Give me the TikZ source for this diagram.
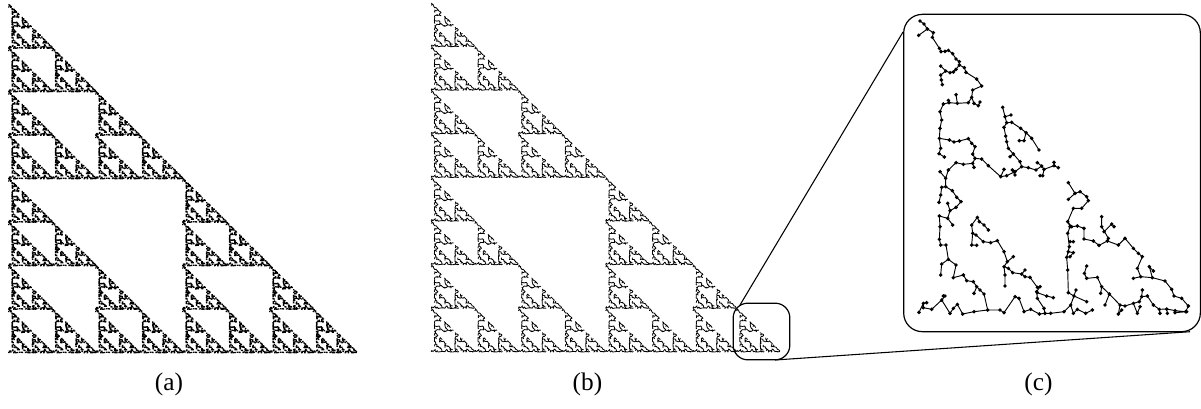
\documentclass[tikz,border=0pt]{standalone}
\usepackage{fontspec}
\setmainfont{Liberation Serif}
\def\yo{0pt}
\def\TP#1#2{\pgfqpoint{#1pt}{\dimexpr#2pt+\yo\relax}}
\def\TB#1{\TBfirst#1 x x }
\def\TBfirst#1 #2 {\TM{#1}{#2}\TBnext}
\def\TBnext#1 #2 {\if x#1\else\TL{#1}{#2}\expandafter\TBnext\fi}
\newcommand\treedata{%
\def\yo{0pt}%
\TB{60 33 72 42 82 57 100 68 97 82 118 115 123 125 135 124 145 121 158 131 168 147 178 155 178 165 168 178 160 186 150 188 137 183 122 195 124 210 127 224}%
\TB{56 76 82 57}%
\TB{122 168 137 183}%
\TB{178 165 193 173 198 187 230 207 245 228 218 240 215 262 205 278 172 280 147 278 130 282 120 305 125 330 120 355 118 385 148 390 162 396 178 393 205 386 215 400 225 410 218 432 225 445 245 447 265 467 302 500 312 478}%
\TB{168 254 172 280}%
\TB{145 271 147 278}%
\TB{215 262 222 280 235 287 240 276}%
\TB{118 385 122 415 117 431 133 441}%
\TB{225 445 218 460 190 463 168 458 145 480 137 505}%
\TB{218 460 222 472}%
\TB{120 485 137 505}%
\TB{302 500 320 497 345 485 365 470 385 473 408 480 425 468 432 478 462 467 475 473}%
\TB{337 480 345 495}%
\TB{432 478 428 497 420 497}%
\TB{412 458 425 468}%
\TB{462 457 462 467}%
\TB{365 470 360 455 340 432 325 415 320 395 317 378 312 352 320 338 335 337 362 355 378 368 395 385 417 420}%
\TB{378 368 372 392 358 392}%
\TB{320 338 315 320 308 292}%
\TB{315 320 333 315}%
\TB{330 440 340 432}%
\def\yo{480pt}%
\TB{137 25 137 50 125 52 122 75 117 97}%
\TB{137 50 157 62 170 82 183 95 168 112 150 122 143 100}%
\TB{150 122 143 145 118 138 120 170 118 208 122 225 138 225 145 268 125 282 122 315}%
\TB{143 145 158 165}%
\TB{145 268 168 285 160 323 190 315 200 332 220 335 230 350 240 360 252 372 263 420}%
\TB{230 350 222 370}%
\TB{57 427 70 400 80 398}%
\TB{70 400 70 413 95 418 125 390 135 378 130 378}%
\TB{125 390 150 430 160 415 172 403 188 432 222 425 263 420 300 420 312 428 345 380 357 385 372 425 392 418 418 432 435 430 452 430 492 425 512 405 522 378 505 368 503 300 500 262 508 230 503 190 510 170 503 155 520 115 545 115 565 92 560 80 540 65 525 70 505 38}%
\TB{525 70 505 88}%
\TB{512 405 528 360}%
\TB{435 430 432 415 412 385 410 365 420 350}%
\TB{412 352 390 322 375 320 365 312 338 308 325 295 312 290 322 275 312 245 292 212 272 218 250 215 228 195 218 190 215 165 232 142 238 155 252 165 265 180}%
\TB{218 190 215 225 230 226}%
\TB{322 275 340 260}%
\TB{312 290 315 315 315 348}%
\TB{375 300 365 312}%
\TB{412 368 440 378 460 383}%
\TB{512 405 520 430 532 418 557 430 577 420}%
\TB{522 378 560 395}%
\TB{503 155 515 170 532 168 552 175 552 207 580 213 597 226 622 213 655 225 675 205 700 235 715 250 727 260 712 295 722 320 700 325}%
\TB{722 320 757 323 795 333 815 358 822 378 845 385 865 408 857 425 825 422 800 417 778 418 760 405 742 378 725 380 718 395 700 400 675 408 660 405 628 372 605 350 592 322 560 325 553 310 560 288}%
\TB{628 372 615 405}%
\TB{605 350 602 370}%
\TB{757 323 748 290 760 303}%
\TB{605 140 605 170 625 205}%
\TB{612 185 635 162 642 170}%
\TB{510 215 520 215}%
\TB{505 245 520 248 510 260}%
\TB{660 405 655 432 665 420}%
\TB{700 400 712 430 720 410}%
\TB{725 380 727 360}%
\TB{778 418 780 430}%
\TB{800 417 802 430}%
\TB{825 422 825 428 860 425}%
}
% rendering modes
\newcommand\renderlines{\def\TM##1##2{\pgfpathmoveto{\TP{##1}{##2}}}\def\TL##1##2{\pgfpathlineto{\TP{##1}{##2}}}\treedata\pgfusepath{stroke}}
\newcommand\renderdots[1]{\def\TM##1##2{\pgfpathcircle{\TP{##1}{##2}}{#1pt}}\let\TL\TM\treedata\pgfusepath{fill}}
\newcommand\renderspeck[1]{\def\TM##1##2{\pgfpathrectangle{\TP{##1}{##2}}{\pgfqpoint{#1pt}{#1pt}}}\let\TL\TM\treedata\pgfusepath{fill}}
% place a copy: X0, Y0 (px, apex), S (px), flip (0/1), renderer
\newcommand\placetree[5]{%
\pgfscope
\pgfmathsetmacro\sa{.75*#3/815}\pgfmathsetmacro\sd{.75*#3/880}%
\ifnum#4=0
  \pgfmathsetmacro\tx{.75*(#1-55*#3/815)}\pgfmathsetmacro\ty{-.75*(#2-30*#3/880)}%
  \pgftransformcm{\sa}{0}{0}{-\sd}{\pgfqpoint{\tx pt}{\ty pt}}%
\else
  \pgfmathsetmacro\tx{.75*(#1+#3+#3*30/880)}\pgfmathsetmacro\ty{-.75*(#2+#3+#3*55/815)}%
  \pgftransformcm{0}{\sa}{-\sd}{0}{\pgfqpoint{\tx pt}{\ty pt}}%
\fi
#5%
\endpgfscope}
\newcount\cpy
\newcommand\sierpinski[4]{% X0 Y0 S renderer
\global\cpy=0
\pgfmathsetmacro\cs{#3/8}%
\foreach \ax/\ay in {0/0,0/1,1/1}{\foreach \bx/\by in {0/0,0/1,1/1}{\foreach \cx/\cy in {0/0,0/1,1/1}{%
  \global\advance\cpy by 1
  \pgfmathtruncatemacro\fl{mod(\cpy*\cpy+5*\cpy,3)==1?1:0}%
  \pgfmathsetmacro\px{#1+\cs*(4*\ax+2*\bx+\cx)}%
  \pgfmathsetmacro\py{#2+\cs*(4*\ay+2*\by+\cy)}%
  \placetree{\px}{\py}{\cs}{\fl}{#4}%
}}}}
\tikzset{
  lens/.style={draw=black,line width=.8pt},
  caption/.style={font=\fontsize{19}{22}\selectfont,inner sep=0pt,anchor=base}
}
\begin{document}
\begin{tikzpicture}[x=.75pt,y=-.75pt]
\useasboundingbox (0,0) rectangle (1201,408);
\fill[white] (0,0) rectangle (1201,408);
% (a)
\sierpinski{8}{4}{348}{\pgfsetfillcolor{black}\renderspeck{27}}
% (b)
\sierpinski{431}{3}{349}{\pgfsetlinewidth{.6pt}\pgfsetroundjoin\renderlines}
% (c)
\pgfscope
\pgftransformcm{.25}{0}{0}{-.25}{\pgfqpoint{675pt}{-7.5pt}}%
\pgfsetlinewidth{.7pt}\renderlines
\renderdots{5.8}
\endpgfscope
% frames and connectors
\node[draw=black,line width=.9pt,rounded corners=11pt,minimum width=42.5pt,minimum height=42.5pt,inner sep=0pt] (zb) at (761.5,331.5) {};
\node[draw=black,line width=.9pt,rounded corners=14pt,minimum width=222.5pt,minimum height=238pt,inner sep=0pt] (zc) at (1052,173) {};
\coordinate (b1) at (740,305);
\coordinate (c1) at (903,32);
\coordinate (b2) at (775,360);
\coordinate (c2) at (1190,331.7);
\draw[lens] (b1) -- (c1);
\draw[lens] (b2) -- (c2);
\node[caption] (la) at (169,390.5) {(a)};
\node[caption] (lb) at (587.5,390.5) {(b)};
\node[caption] (lc) at (1038.5,390.5) {(c)};
\end{tikzpicture}
\end{document}
